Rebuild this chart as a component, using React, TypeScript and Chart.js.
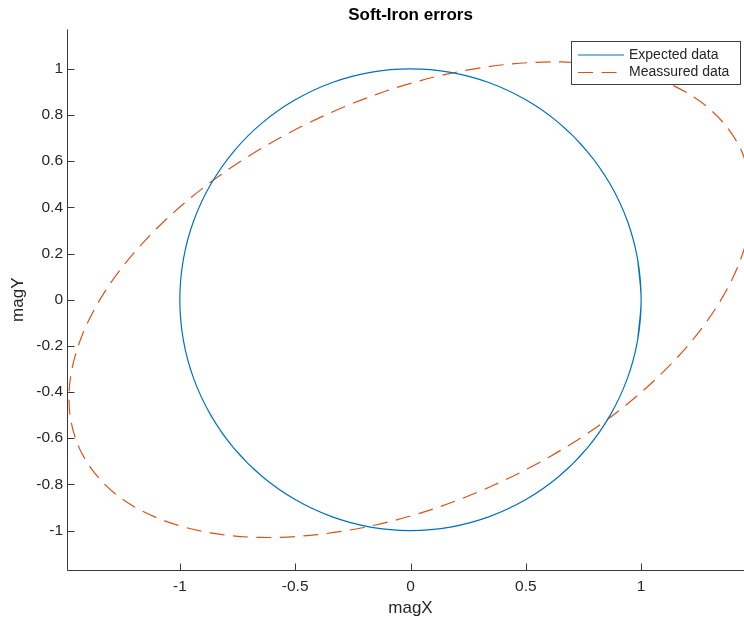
import React, { useEffect, useRef } from 'react';
import { Chart, registerables } from 'chart.js';

Chart.register(...registerables);

const TITLE = 'Soft-Iron errors';
const X_LABEL = 'magX';
const Y_LABEL = 'magY';
const SERIES_NAMES = ['Expected data', 'Meassured data'];

const X_TICKS = [-1, -0.5, 0, 0.5, 1];
const X_TICK_LABELS = ['-1', '-0.5', '0', '0.5', '1'];
const Y_TICKS = [-1, -0.8, -0.6, -0.4, -0.2, 0, 0.2, 0.4, 0.6, 0.8, 1];
const Y_TICK_LABELS = ['-1', '-0.8', '-0.6', '-0.4', '-0.2', '0', '0.2', '0.4', '0.6', '0.8', '1'];
const X_RANGE = [-1.485, 1.485];
const Y_RANGE = [-1.171, 1.171];

// Expected data (unit circle), read every 10 degrees (trace overlaps its start by one step)
const expectedX = [0.985, 1, 0.985, 0.94, 0.866, 0.766, 0.643, 0.5, 0.342, 0.174, 0, -0.174, -0.342, -0.5, -0.643, -0.766, -0.866, -0.94, -0.985, -1, -0.985, -0.94, -0.866, -0.766, -0.643, -0.5, -0.342, -0.174, 0, 0.174, 0.342, 0.5, 0.643, 0.766, 0.866, 0.94, 0.985, 1, 0.985];
const expectedY = [-0.174, 0, 0.174, 0.342, 0.5, 0.643, 0.766, 0.866, 0.94, 0.985, 1, 0.985, 0.94, 0.866, 0.766, 0.643, 0.5, 0.342, 0.174, 0, -0.174, -0.342, -0.5, -0.643, -0.766, -0.866, -0.94, -0.985, -1, -0.985, -0.94, -0.866, -0.766, -0.643, -0.5, -0.342, -0.174, 0, 0.174];

const measuredX = [1.477, 1.436, 1.351, 1.226, 1.063, 0.868, 0.647, 0.406, 0.152, -0.106, -0.36, -0.604, -0.83, -1.03, -1.199, -1.332, -1.424, -1.473, -1.477, -1.436, -1.351, -1.226, -1.063, -0.868, -0.647, -0.406, -0.152, 0.106, 0.36, 0.604, 0.83, 1.03, 1.199, 1.332, 1.424, 1.473, 1.477];
const measuredY = [0.494, 0.643, 0.773, 0.88, 0.959, 1.01, 1.03, 1.018, 0.976, 0.904, 0.804, 0.68, 0.536, 0.375, 0.203, 0.024, -0.155, -0.329, -0.494, -0.643, -0.773, -0.88, -0.959, -1.01, -1.03, -1.018, -0.976, -0.904, -0.804, -0.68, -0.536, -0.375, -0.203, -0.024, 0.155, 0.329, 0.494];

const FONT = '"Liberation Sans", Arial, Helvetica, sans-serif';
const TEXT_COLOR = '#262626';
const AXIS_COLOR = '#3a3a3a';
const BLUE = '#0072BD';
const ORANGE = '#D95319';
const DASH = [15, 8.5];

const matlabAxes = {
  id: 'matlabAxes',
  afterDraw(chart: any) {
    const { ctx, chartArea, scales } = chart;
    const xs = scales.x;
    const ys = scales.y;
    ctx.save();
    ctx.strokeStyle = AXIS_COLOR;
    ctx.lineWidth = 1;
    ctx.setLineDash([]);
    const left = Math.round(chartArea.left) - 0.5;
    const bottom = Math.round(chartArea.bottom) + 0.5;
    ctx.beginPath();
    ctx.moveTo(left, chartArea.top);
    ctx.lineTo(left, bottom);
    ctx.lineTo(chartArea.right, bottom);
    for (const v of Y_TICKS) {
      const p = Math.round(ys.getPixelForValue(v)) + 0.5;
      ctx.moveTo(left, p);
      ctx.lineTo(left + 7, p);
    }
    for (const v of X_TICKS) {
      const p = Math.round(xs.getPixelForValue(v)) + 0.5;
      ctx.moveTo(p, bottom);
      ctx.lineTo(p, bottom - 7);
    }
    ctx.stroke();

    // legend (north-east, inside axes)
    const lx = Math.round(chartArea.right) - 181.5;
    const ly = Math.round(chartArea.top) + 12.5;
    const lw = 169;
    const lh = 43;
    ctx.fillStyle = '#ffffff';
    ctx.fillRect(lx, ly, lw, lh);
    ctx.strokeStyle = '#404040';
    ctx.lineWidth = 1;
    ctx.strokeRect(lx, ly, lw, lh);
    chart.data.datasets.forEach((ds: any, i: number) => {
      const y = ly + 13.5 + i * 17.5;
      ctx.strokeStyle = ds.borderColor;
      ctx.lineWidth = ds.borderWidth;
      ctx.setLineDash(ds.borderDash || []);
      ctx.beginPath();
      ctx.moveTo(lx + 6.5, y);
      ctx.lineTo(lx + 52.5, y);
      ctx.stroke();
      ctx.setLineDash([]);
      ctx.fillStyle = TEXT_COLOR;
      ctx.font = `14px ${FONT}`;
      ctx.textAlign = 'left';
      ctx.textBaseline = 'middle';
      ctx.fillText(ds.label, lx + 57.5, y);
    });
    ctx.restore();
  },
};

export default function App() {
  const ref = useRef<HTMLCanvasElement | null>(null);

  useEffect(() => {
    if (!ref.current) return;
    const chart = new Chart(ref.current, {
      type: 'scatter',
      data: {
        datasets: [
          {
            label: SERIES_NAMES[0],
            data: expectedX.map((x, i) => ({ x, y: expectedY[i] })),
            showLine: true,
            borderColor: BLUE,
            backgroundColor: BLUE,
            borderWidth: 1.2,
            pointRadius: 0,
            tension: 0.33,
            fill: false,
          },
          {
            label: SERIES_NAMES[1],
            data: measuredX.map((x, i) => ({ x, y: measuredY[i] })),
            showLine: true,
            borderColor: ORANGE,
            backgroundColor: ORANGE,
            borderWidth: 1.2,
            borderDash: DASH,
            pointRadius: 0,
            tension: 0.33,
            fill: false,
          },
        ],
      },
      options: {
        responsive: false,
        animation: false,
        layout: { padding: 0 },
        plugins: {
          legend: { display: false },
          tooltip: { enabled: false },
          title: {
            display: true,
            text: TITLE,
            fullSize: false,
            color: '#000000',
            font: { family: FONT, size: 17, weight: 'bold' },
            padding: { top: 5, bottom: 4 },
          },
        },
        scales: {
          x: {
            type: 'linear',
            min: X_RANGE[0],
            max: X_RANGE[1],
            afterFit: (s: any) => { s.height = 54; },
            afterBuildTicks: (s: any) => { s.ticks = X_TICKS.map((v) => ({ value: v })); },
            grid: { display: false, drawTicks: false },
            border: { display: false },
            ticks: {
              padding: 7,
              color: TEXT_COLOR,
              font: { family: FONT, size: 15.5 },
              maxRotation: 0,
              autoSkip: false,
              callback: (_v: any, i: number) => X_TICK_LABELS[i],
            },
            title: {
              display: true,
              text: X_LABEL,
              color: TEXT_COLOR,
              font: { family: FONT, size: 17 },
              padding: { top: 0, bottom: 5 },
            },
          },
          y: {
            type: 'linear',
            min: Y_RANGE[0],
            max: Y_RANGE[1],
            afterFit: (s: any) => { s.width = 68; },
            afterBuildTicks: (s: any) => { s.ticks = Y_TICKS.map((v) => ({ value: v })); },
            grid: { display: false, drawTicks: false },
            border: { display: false },
            ticks: {
              padding: 5,
              color: TEXT_COLOR,
              font: { family: FONT, size: 15.5 },
              autoSkip: false,
              callback: (_v: any, i: number) => Y_TICK_LABELS[i],
            },
            title: {
              display: true,
              text: Y_LABEL,
              color: TEXT_COLOR,
              font: { family: FONT, size: 17 },
              padding: { top: 8, bottom: 0 },
            },
          },
        },
      },
      plugins: [matlabAxes],
    } as any);
    return () => chart.destroy();
  }, []);

  return (
    <div style={{ position: 'absolute', left: 0, top: 0, width: 744, height: 624, overflow: 'hidden', background: '#ffffff' }}>
      <canvas ref={ref} width={753} height={624} style={{ display: 'block' }} />
    </div>
  );
}
